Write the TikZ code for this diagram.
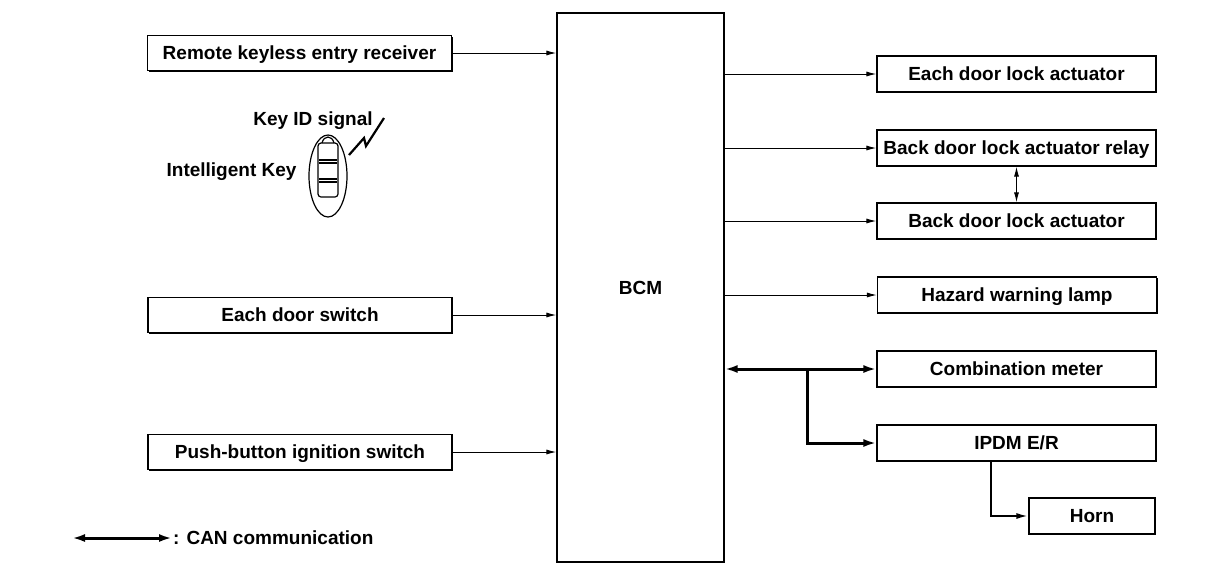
\documentclass[tikz,border=0pt]{standalone}
\usepackage{fontspec}
\setmainfont{Liberation Sans}
\usetikzlibrary{arrows.meta,shadows}
\begin{document}
\begin{tikzpicture}[x=1pt,y=-1pt,font=\fontsize{19}{21}\selectfont\bfseries]
        \tikzstyle{unit}=[rectangle,draw=black,line width=1.2pt,fill=white,inner sep=0pt,
          text height=13.5pt,text depth=0pt,
          drop shadow={shadow xshift=1.3pt,shadow yshift=-1.3pt,fill=black,opacity=1}]
        \tikzstyle{lbox}=[unit,minimum width=304,minimum height=35]
        \tikzstyle{rbox}=[unit,minimum width=279,minimum height=36]
        \tikzstyle{edge}=[draw,line width=1pt,-{Latex[length=10pt,width=5pt]}]
        \tikzstyle{can}=[draw,line width=3pt,{Latex[length=13pt,width=8pt]}-{Latex[length=13pt,width=8pt]}]
        \useasboundingbox (0,0) rectangle (1216,582);
       \begin{scope}
         \node [unit,minimum width=167,minimum height=549] (bcm) at (640.5,287.5) {BCM};

         \node [lbox] (rke) at (299.5,53) {Remote keyless entry receiver};
         \node [lbox] (dsw) at (300,315) {Each door switch};
         \node [lbox] (ign) at (300,452) {Push-button ignition switch};

         \node [rbox] (edla) at (1016.5,74) {Each door lock actuator};
         \node [rbox] (relay) at (1016.5,148) {Back door lock actuator relay};
         \node [rbox] (bdla) at (1016.5,221) {Back door lock actuator};
         \node [rbox] (hwl) at (1017,295) {Hazard warning lamp};
         \node [rbox] (meter) at (1016.5,369) {Combination meter};
         \node [rbox] (ipdm) at (1016.5,443) {IPDM E/R};
         \node [unit,minimum width=126,minimum height=36] (horn) at (1092,516) {Horn};

         % intelligent key
         \node (keyid) at (313,121) {Key ID signal};
         \node [anchor=east] (ikey) at (300,172) {Intelligent Key};
         \draw [line width=1.2pt] (328,176) ellipse (19 and 41);
         \draw [line width=1.2pt,rounded corners=3pt] (318,143) rectangle (338,197);
         \draw [line width=1.2pt] (322,143) .. controls (324,135) and (332,135) .. (334,143);
         \draw [line width=1.2pt] (319,160) -- (337,160) (319,163) -- (337,163);
         \draw [line width=1.2pt] (319,179) -- (337,179) (319,182) -- (337,182);
         \draw [line width=2.2pt] (349,155) -- (364,138) -- (366,146) -- (384,118);

         \path[edge] (rke) -- (rke -| bcm.west);
         \path[edge] (dsw) -- (dsw -| bcm.west);
         \path[edge] (ign) -- (ign -| bcm.west);

         \path[edge] (bcm.east |- edla) -- (edla);
         \path[edge] (bcm.east |- relay) -- (relay);
         \path[edge] (bcm.east |- bdla) -- (bdla);
         \path[edge] (bcm.east |- hwl) -- (hwl);
         \path[draw,line width=1pt,{Latex[length=10pt,width=5pt]}-{Latex[length=10pt,width=5pt]}] (relay.south) -- (bdla.north);

         \coordinate (canjn) at (807,369);
         \coordinate (hornjn) at (991,461);
         \path[can] (bcm.east |- meter) -- (meter);
         \path[draw,line width=3pt,-{Latex[length=13pt,width=8pt]}] (canjn) |- (ipdm);
         \path[draw,line width=2pt,-{Latex[length=12pt,width=6pt]}] (hornjn) |- (horn);

         % legend
         \coordinate (lega) at (72,538);
         \coordinate (legb) at (172,538);
         \path[can] (lega) -- (legb);
         \node [anchor=west,inner sep=1pt] (legtxt) at (legb) {: CAN communication};
        \end{scope}
      \end{tikzpicture}
\end{document}
